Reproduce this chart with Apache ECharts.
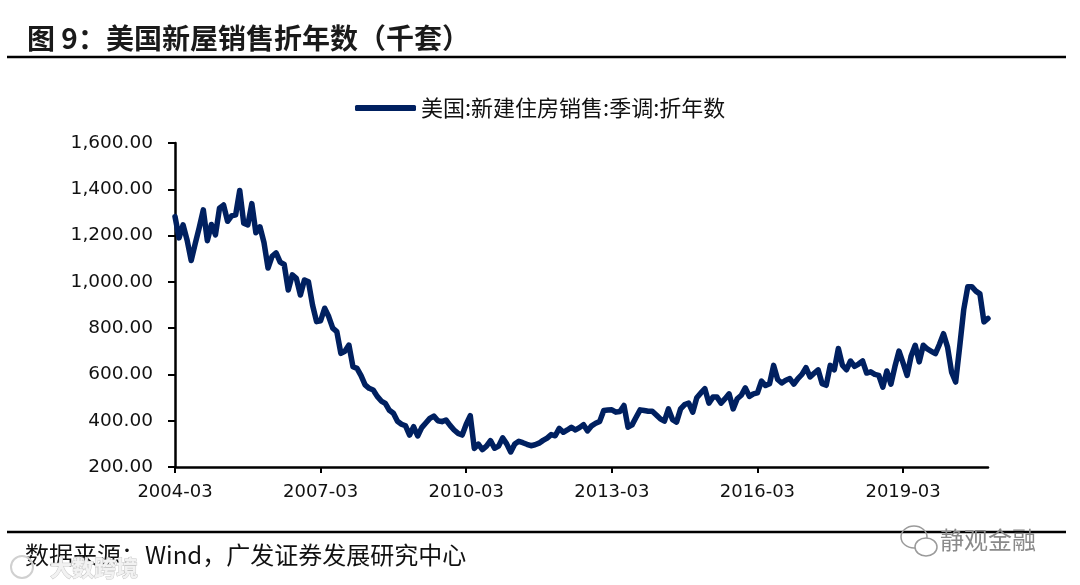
<!DOCTYPE html>
<html>
<head>
<meta charset="utf-8">
<script src="https://cdn.jsdelivr.net/npm/echarts@6/dist/echarts.min.js"></script>
<style>
html,body{margin:0;padding:0;background:#fff;}
#chart{width:1080px;height:585px;}
</style>
</head>
<body>
<div id="chart"></div>
<script>
// ---- data ----
const startYear = 2004, startMonth = 3;
const seriesName = '美国:新建住房销售:季调:折年数';
const titleText = '图 9：美国新屋销售折年数（千套）';
const sourceText = '数据来源：Wind，广发证券发展研究中心';
const yTicks = [200, 400, 600, 800, 1000, 1200, 1400, 1600];
const xTickLabels = ['2004-03', '2007-03', '2010-03', '2013-03', '2016-03', '2019-03'];

const sales2004 = [1282, 1190, 1246, 1180, 1092, 1165, 1235, 1311, 1178, 1248];
const sales2005 = [1203, 1318, 1332, 1262, 1285, 1290, 1395, 1253, 1246, 1338, 1212, 1238];
const sales2006 = [1170, 1060, 1110, 1125, 1085, 1075, 965, 1030, 1015, 943, 1008, 1000];
const sales2007 = [900, 828, 832, 886, 850, 800, 785, 691, 700, 727, 633, 626];
const sales2008 = [595, 555, 540, 533, 505, 485, 475, 445, 432, 398, 385, 378];
const sales2009 = [338, 374, 334, 370, 390, 410, 420, 400, 396, 403, 380, 360];
const sales2010 = [345, 338, 385, 422, 280, 299, 275, 290, 314, 281, 290, 326];
const sales2011 = [300, 265, 299, 311, 305, 298, 292, 296, 303, 315, 325, 340];
const sales2012 = [335, 367, 350, 360, 372, 360, 370, 383, 356, 378, 389, 397];
const sales2013 = [444, 446, 447, 437, 440, 466, 372, 382, 415, 447, 444, 441];
const sales2014 = [441, 425, 408, 398, 451, 405, 394, 451, 470, 476, 437, 499];
const sales2015 = [520, 538, 476, 502, 502, 476, 495, 516, 451, 495, 510, 542];
const sales2016 = [505, 516, 520, 571, 552, 560, 639, 578, 563, 575, 582, 558];
const sales2017 = [582, 600, 629, 589, 605, 620, 560, 553, 639, 620, 712, 640];
const sales2018 = [620, 658, 635, 645, 658, 606, 611, 600, 596, 545, 615, 558];
const sales2019 = [635, 701, 650, 596, 680, 726, 654, 726, 710, 700, 690, 730];
const sales2020 = [776, 718, 610, 567, 720, 880, 979, 979, 960, 948, 827, 842];

const values = [].concat(sales2004, sales2005, sales2006, sales2007, sales2008, sales2009,
  sales2010, sales2011, sales2012, sales2013, sales2014, sales2015, sales2016, sales2017,
  sales2018, sales2019, sales2020);

const categories = [];
for (let k = 0; k < values.length; k++) {
  const m = startMonth - 1 + k;
  const y = startYear + Math.floor(m / 12);
  const mm = (m % 12) + 1;
  categories.push(y + '-' + (mm < 10 ? '0' + mm : '' + mm));
}

function fmt(v) {
  const parts = Number(v).toFixed(2).split('.');
  return parts[0].replace(/\B(?=(\d{3})+(?!\d))/g, ',') + '.' + parts[1];
}

const chart = echarts.init(document.getElementById('chart'), null, {renderer: 'canvas'});
const option = {
  animation: false,
  backgroundColor: '#ffffff',
  title: {
    text: titleText,
    left: 22, top: 19,
    textStyle: {fontFamily: '"Noto Sans CJK SC"', fontSize: 28, fontWeight: 'bold', color: '#1a1a1a'}
  },
  legend: {
    data: [seriesName],
    left: 350, top: 92,
    icon: 'roundRect',
    itemWidth: 61, itemHeight: 6,
    textStyle: {fontFamily: '"Noto Sans CJK SC"', fontSize: 22, color: '#111'}
  },
  grid: {left: 175, right: 92, top: 143, bottom: 118, containLabel: false, outerBoundsMode: 'none'},
  xAxis: {
    type: 'category',
    data: categories,
    boundaryGap: false,
    axisLine: {lineStyle: {color: '#000', width: 2.5}},
    axisTick: {show: true, interval: 35, length: 6, lineStyle: {color: '#000', width: 2}},
    axisLabel: {
      interval: 35, margin: 16, color: '#111',
      fontFamily: '"DejaVu Sans"', fontSize: 18,
      formatter: function (v) { return xTickLabels.indexOf(v) >= 0 ? v : ''; }
    },
    splitLine: {show: false}
  },
  yAxis: {
    type: 'value',
    min: yTicks[0], max: yTicks[yTicks.length - 1], interval: 200,
    axisLine: {show: true, lineStyle: {color: '#000', width: 2.5}},
    axisTick: {show: true, length: 7, lineStyle: {color: '#000', width: 2}},
    axisLabel: {margin: 22, color: '#111', fontFamily: '"DejaVu Sans"', fontSize: 18.5, formatter: fmt},
    splitLine: {show: false}
  },
  series: [{
    name: seriesName,
    type: 'line',
    data: values,
    symbol: 'none',
    showSymbol: false,
    smooth: false,
    itemStyle: {color: '#002060'},
    lineStyle: {color: '#002060', width: 5.5, join: 'round', cap: 'round'}
  }],
  graphic: [
    {type: 'line', shape: {x1: 7, y1: 57, x2: 1066, y2: 57}, style: {stroke: '#000', lineWidth: 2.5}},
    {type: 'line', shape: {x1: 7, y1: 532, x2: 1066, y2: 532}, style: {stroke: '#000', lineWidth: 2.5}},
    {type: 'text', x: 25, y: 555, style: {text: sourceText, font: '24px "Noto Sans CJK SC"', fill: '#111', textAlign: 'left', textVerticalAlign: 'middle', verticalAlign: 'middle'}},
    {type: 'ellipse', shape: {cx: 914, cy: 537, rx: 13, ry: 11}, style: {fill: 'none', stroke: '#9a9a9a', lineWidth: 1.5}},
    {type: 'ellipse', shape: {cx: 926, cy: 547, rx: 11, ry: 9}, style: {fill: '#fff', stroke: '#9a9a9a', lineWidth: 1.5}},
    {type: 'text', x: 940, y: 540, style: {text: '静观金融', font: '24px "Noto Sans CJK SC"', fill: '#8a8a8a', textAlign: 'left', textVerticalAlign: 'middle', verticalAlign: 'middle'}},
    {type: 'circle', shape: {cx: 22, cy: 567, r: 11}, style: {fill: 'none', stroke: '#d0d0d0', lineWidth: 2}},
    {type: 'text', x: 50, y: 568, style: {text: '大数跨境', font: 'bold 22px "Noto Sans CJK SC"', fill: '#f2f2f2', stroke: '#c8c8c8', lineWidth: 1, textAlign: 'left', textVerticalAlign: 'middle', verticalAlign: 'middle'}}
  ]
};
chart.setOption(option);
</script>
</body>
</html>
